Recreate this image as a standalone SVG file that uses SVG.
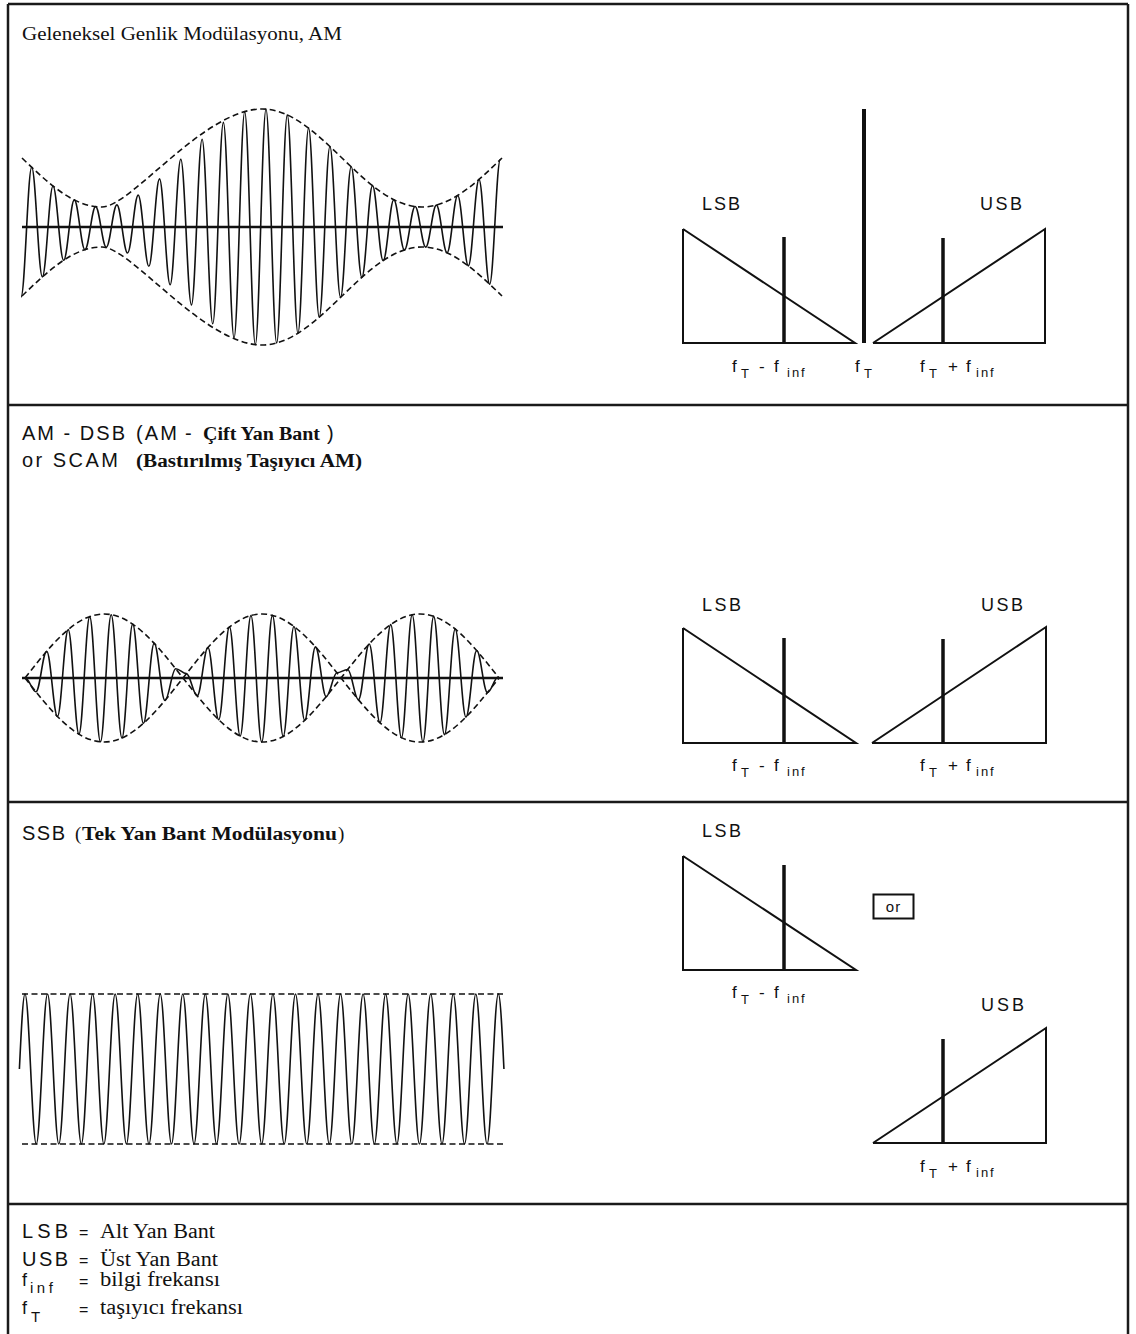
<svg xmlns="http://www.w3.org/2000/svg" width="1136" height="1334" viewBox="0 0 1136 1334">
<style>
.frame{stroke:#1a1a1a;stroke-width:2.5;fill:none}
.wave{stroke:#111;stroke-width:1.6;fill:none;stroke-linejoin:round}
.axis{stroke:#111;stroke-width:2.6}
.env{stroke:#111;stroke-width:1.6;fill:none;stroke-dasharray:6 3.5}
.tri{stroke:#111;stroke-width:2;fill:none;stroke-linejoin:miter}
.bar{stroke:#111;stroke-width:3.5}
.car{stroke:#111;stroke-width:4}
.sans{font-family:"Liberation Sans",Arial,sans-serif;fill:#111}
.serif{font-family:"Liberation Serif","Times New Roman",serif;fill:#111}
.sb{font-size:18px}
.fs{font-size:17px}
.sub{font-size:13px}
.head{font-size:20px}
.bold{font-weight:bold;font-size:18px}
</style>
<rect width="1136" height="1334" fill="#fff"/>

<g id="frame">
<line class="frame" x1="8" y1="4" x2="1128" y2="4"/>
<line class="frame" x1="8" y1="4" x2="8" y2="1334"/>
<line class="frame" x1="1128" y1="4" x2="1128" y2="1334"/>
<line class="frame" x1="8" y1="405" x2="1128" y2="405"/>
<line class="frame" x1="8" y1="802" x2="1128" y2="802"/>
<line class="frame" x1="8" y1="1204" x2="1128" y2="1204"/>
</g>

<!-- Section 1 -->
<g id="am-title">
<text class="serif" x="22" y="40" font-size="18.5" textLength="320" lengthAdjust="spacingAndGlyphs" fill="#333">Geleneksel Genlik Modülasyonu, AM</text>
</g>
<g id="am-wave">
<line class="axis" x1="22" y1="227" x2="503" y2="227"/>
<path class="env" d="M22,158 C48.09,183.1 73.05,207 102,207 S203.76,109 262,109 S363.76,207 422,207 C450.95,207 475.91,183.1 502,158"/>
<path class="env" d="M22,296 C48.09,270.9 73.05,247 102,247 S203.76,345 262,345 S363.76,247 422,247 C450.95,247 475.91,270.9 502,296"/>
<path class="wave" d="M21.05,296.9 C24.93,296.9 27.82,167.3 31.7,167.3 S38.47,276.9 42.35,276.9 S49.12,186.0 53.0,186.0 S59.77,260.3 63.65,260.3 S70.42,199.9 74.3,199.9 S81.07,249.7 84.95,249.7 S91.72,206.6 95.6,206.6 S102.37,247.2 106.25,247.2 S113.02,204.9 116.9,204.9 S123.67,253.0 127.55,253.0 S134.32,195.1 138.2,195.1 S144.97,266.3 148.85,266.3 S155.62,178.9 159.5,178.9 S166.27,284.7 170.15,284.7 S176.92,159.2 180.8,159.2 S187.57,305.0 191.45,305.0 S198.22,139.2 202.1,139.2 S208.87,323.8 212.75,323.8 S219.52,122.4 223.4,122.4 S230.17,337.8 234.05,337.8 S240.82,111.8 244.7,111.8 S251.47,344.6 255.35,344.6 S262.12,109.2 266.0,109.2 S272.77,343.0 276.65,343.0 S283.42,114.9 287.3,114.9 S294.07,333.3 297.95,333.3 S304.72,128.1 308.6,128.1 S315.37,317.2 319.25,317.2 S326.02,146.5 329.9,146.5 S336.67,297.4 340.55,297.4 S347.32,166.8 351.2,166.8 S357.97,277.4 361.85,277.4 S368.62,185.6 372.5,185.6 S379.27,260.6 383.15,260.6 S389.92,199.7 393.8,199.7 S400.57,249.9 404.45,249.9 S411.22,206.5 415.1,206.5 S421.87,247.1 425.75,247.1 S432.52,205.1 436.4,205.1 S443.17,252.8 447.05,252.8 S453.82,195.5 457.7,195.5 S464.47,265.9 468.35,265.9 S475.12,179.4 479.0,179.4 S485.77,284.2 489.65,284.2 S496.42,159.6 500.3,159.6"/>
</g>
<g id="am-spectrum">
<text class="sans sb" x="702" y="210" textLength="38" lengthAdjust="spacing">LSB</text>
<text class="sans sb" x="980" y="210" textLength="42" lengthAdjust="spacing">USB</text>
<polyline class="tri" points="683,229 683,343 855,343 683,229"/>
<line class="bar" x1="784" y1="237" x2="784" y2="343"/>
<line class="car" x1="864" y1="109" x2="864" y2="343"/>
<polyline class="tri" points="873,343 1045,343 1045,229 873,343"/>
<line class="bar" x1="943" y1="238" x2="943" y2="343"/>
<text class="sans fs" x="732" y="372">f</text><text class="sans sub" x="741" y="378">T</text><text class="sans fs" x="759" y="372">-</text><text class="sans fs" x="774" y="372">f</text><text class="sans sub" x="787" y="377" letter-spacing="2">inf</text>
<text class="sans fs" x="855" y="372">f</text><text class="sans sub" x="864" y="378">T</text>
<text class="sans fs" x="920" y="372">f</text><text class="sans sub" x="929" y="378">T</text><text class="sans fs" x="948" y="372">+</text><text class="sans fs" x="966" y="372">f</text><text class="sans sub" x="976" y="377" letter-spacing="2">inf</text>
</g>

<!-- Section 2 -->
<g id="dsb-title">
<text class="sans head" x="22" y="440" textLength="103" lengthAdjust="spacing">AM - DSB</text>
<text class="sans head" x="136" y="440" textLength="41" lengthAdjust="spacing">(AM</text>
<text class="sans head" x="185" y="440">-</text>
<text class="serif bold" x="203" y="440" textLength="117" lengthAdjust="spacingAndGlyphs">Çift Yan Bant</text>
<text class="sans head" x="327" y="440">)</text>
<text class="sans head" x="22" y="467" textLength="96" lengthAdjust="spacing">or SCAM</text>
<text class="serif bold" x="136" y="467" textLength="226" lengthAdjust="spacingAndGlyphs">(Bastırılmış Taşıyıcı AM)</text>
</g>
<g id="dsb-wave">
<line class="axis" x1="22" y1="678" x2="503" y2="678"/>
<path class="env" d="M25,678 C50.77,645.2 75.41,614 104,614 C132.59,614 157.23,645.2 183,678 C208.77,645.2 233.41,614 262,614 C290.59,614 315.23,645.2 341,678 C366.77,645.2 391.41,614 420,614 C448.59,614 473.23,645.2 499,678"/>
<path class="env" d="M25,678 C50.77,710.8 75.41,742 104,742 C132.59,742 157.23,710.8 183,678 C208.77,710.8 233.41,742 262,742 C290.59,742 315.23,710.8 341,678 C366.77,710.8 391.41,742 420,742 C448.59,742 473.23,710.8 499,678"/>
<path class="wave" d="M25.2,677.7 C29.11,677.7 32.04,691.8 35.95,691.8 S42.79,651.2 46.7,651.2 S53.54,716.5 57.45,716.5 S64.29,629.6 68.2,629.6 S75.04,734.2 78.95,734.2 S85.79,616.6 89.7,616.6 S96.54,741.8 100.45,741.8 S107.29,614.7 111.2,614.7 S118.04,738.0 121.95,738.0 S128.79,624.1 132.7,624.1 S139.54,723.3 143.45,723.3 S150.29,643.3 154.2,643.3 S161.04,700.5 164.95,700.5 S171.79,668.7 175.7,668.7 S182.54,673.6 186.45,673.6 S193.29,695.8 197.2,695.8 S204.04,647.5 207.95,647.5 S214.79,719.7 218.7,719.7 S225.54,626.9 229.45,626.9 S236.29,736.1 240.2,736.1 S247.04,615.5 250.95,615.5 S257.79,742.0 261.7,742.0 S268.54,615.4 272.45,615.4 S279.29,736.4 283.2,736.4 S290.04,626.5 293.95,626.5 S300.79,720.3 304.7,720.3 S311.54,646.9 315.45,646.9 S322.29,696.6 326.2,696.6 S333.04,672.8 336.95,672.8 S343.79,669.5 347.7,669.5 S354.54,699.8 358.45,699.8 S365.29,644.0 369.2,644.0 S376.04,722.8 379.95,722.8 S386.79,624.6 390.7,624.6 S397.54,737.7 401.45,737.7 S408.29,614.8 412.2,614.8 S419.04,741.9 422.95,741.9 S429.79,616.4 433.7,616.4 S440.54,734.6 444.45,734.6 S451.29,629.0 455.2,629.0 S462.04,717.1 465.95,717.1 S472.79,650.5 476.7,650.5 S483.54,692.6 487.45,692.6 S494.29,677.0 498.2,677.0"/>
</g>
<g id="dsb-spectrum">
<text class="sans sb" x="702" y="611" textLength="39" lengthAdjust="spacing">LSB</text>
<text class="sans sb" x="981" y="611" textLength="42" lengthAdjust="spacing">USB</text>
<polyline class="tri" points="683,628 683,743 856,743 683,628"/>
<line class="bar" x1="784" y1="638" x2="784" y2="743"/>
<polyline class="tri" points="872,743 1046,743 1046,627 872,743"/>
<line class="bar" x1="943" y1="639" x2="943" y2="743"/>
<text class="sans fs" x="732" y="771">f</text><text class="sans sub" x="741" y="777">T</text><text class="sans fs" x="759" y="771">-</text><text class="sans fs" x="774" y="771">f</text><text class="sans sub" x="787" y="776" letter-spacing="2">inf</text>
<text class="sans fs" x="920" y="771">f</text><text class="sans sub" x="929" y="777">T</text><text class="sans fs" x="948" y="771">+</text><text class="sans fs" x="966" y="771">f</text><text class="sans sub" x="976" y="776" letter-spacing="2">inf</text>
</g>

<!-- Section 3 -->
<g id="ssb-title">
<text class="sans head" x="22" y="840" font-size="19" textLength="43" lengthAdjust="spacing">SSB</text>
<text class="serif" x="75" y="840" font-size="19">(</text>
<text class="serif bold" x="82" y="840" textLength="255" lengthAdjust="spacingAndGlyphs">Tek Yan Bant Modülasyonu</text>
<text class="serif" x="338" y="840" font-size="19">)</text>
</g>
<g id="ssb-wave">
<line class="env" x1="22" y1="994" x2="505" y2="994"/>
<line class="env" x1="22" y1="1144" x2="505" y2="1144"/>
<path class="wave" d="M19.4,1069 C21.24,1030.6 22.99,994 25,994 C29.1,994 32.17,1144 36.27,1144 S43.44,994 47.54,994 S54.71,1144 58.81,1144 S65.98,994 70.08,994 S77.25,1144 81.35,1144 S88.52,994 92.62,994 S99.79,1144 103.89,1144 S111.06,994 115.16,994 S122.33,1144 126.43,1144 S133.6,994 137.7,994 S144.87,1144 148.97,1144 S156.14,994 160.24,994 S167.41,1144 171.51,1144 S178.68,994 182.78,994 S189.95,1144 194.05,1144 S201.22,994 205.32,994 S212.49,1144 216.59,1144 S223.76,994 227.86,994 S235.03,1144 239.13,1144 S246.3,994 250.4,994 S257.57,1144 261.67,1144 S268.84,994 272.94,994 S280.11,1144 284.21,1144 S291.38,994 295.48,994 S302.65,1144 306.75,1144 S313.92,994 318.02,994 S325.19,1144 329.29,1144 S336.46,994 340.56,994 S347.73,1144 351.83,1144 S359.0,994 363.1,994 S370.27,1144 374.37,1144 S381.54,994 385.64,994 S392.81,1144 396.91,1144 S404.08,994 408.18,994 S415.35,1144 419.45,1144 S426.62,994 430.72,994 S437.89,1144 441.99,1144 S449.16,994 453.26,994 S460.43,1144 464.53,1144 S471.7,994 475.8,994 S482.97,1144 487.07,1144 S494.24,994 498.34,994 C500.35,994 502.1,1030.6 503.94,1069"/>
</g>
<g id="ssb-lsb">
<text class="sans sb" x="702" y="837" textLength="39" lengthAdjust="spacing">LSB</text>
<polyline class="tri" points="683,856 683,970 856,970 683,856"/>
<line class="bar" x1="784" y1="865" x2="784" y2="970"/>
<text class="sans fs" x="732" y="998">f</text><text class="sans sub" x="741" y="1004">T</text><text class="sans fs" x="759" y="998">-</text><text class="sans fs" x="774" y="998">f</text><text class="sans sub" x="787" y="1003" letter-spacing="2">inf</text>
</g>
<g id="ssb-or">
<rect class="tri" x="873.5" y="894.5" width="40" height="24"/>
<text class="sans" x="893.5" y="912" font-size="15" text-anchor="middle" letter-spacing="1">or</text>
</g>
<g id="ssb-usb">
<text class="sans sb" x="981" y="1011" textLength="43" lengthAdjust="spacing">USB</text>
<polyline class="tri" points="873,1143 1046,1143 1046,1028 873,1143"/>
<line class="bar" x1="943" y1="1039" x2="943" y2="1143"/>
<text class="sans fs" x="920" y="1172">f</text><text class="sans sub" x="929" y="1178">T</text><text class="sans fs" x="948" y="1172">+</text><text class="sans fs" x="966" y="1172">f</text><text class="sans sub" x="976" y="1177" letter-spacing="2">inf</text>
</g>

<!-- Legend -->
<g id="legend">
<text class="sans" x="22" y="1238" font-size="20" textLength="46" lengthAdjust="spacing">LSB</text>
<text class="sans" x="79" y="1238" font-size="16">=</text>
<text class="serif" x="100" y="1238" font-size="20" textLength="115" lengthAdjust="spacingAndGlyphs">Alt Yan Bant</text>
<text class="sans" x="22" y="1266" font-size="20" textLength="46" lengthAdjust="spacing">USB</text>
<text class="sans" x="79" y="1266" font-size="16">=</text>
<text class="serif" x="100" y="1266" font-size="20" textLength="118" lengthAdjust="spacingAndGlyphs">Üst Yan Bant</text>
<text class="sans" x="22" y="1286" font-size="18">f</text>
<text class="sans" x="30" y="1293" font-size="15" letter-spacing="3.5">inf</text>
<text class="sans" x="79" y="1287" font-size="16">=</text>
<text class="serif" x="100" y="1286" font-size="20" textLength="120" lengthAdjust="spacingAndGlyphs">bilgi frekansı</text>
<text class="sans" x="22" y="1314" font-size="18">f</text>
<text class="sans" x="31" y="1322" font-size="15">T</text>
<text class="sans" x="79" y="1315" font-size="16">=</text>
<text class="serif" x="100" y="1314" font-size="20" textLength="143" lengthAdjust="spacingAndGlyphs">taşıyıcı frekansı</text>
</g>
</svg>
